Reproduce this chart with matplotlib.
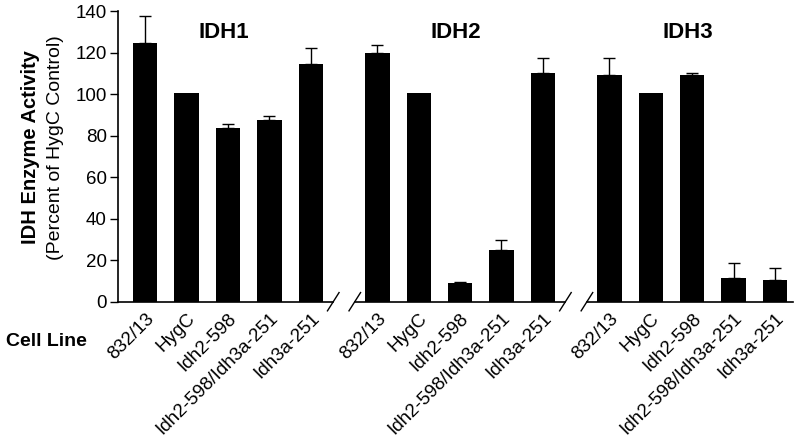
import matplotlib
matplotlib.use("Agg")
import matplotlib.pyplot as plt
import numpy as np
from matplotlib.transforms import blended_transform_factory

plt.rcParams['font.family'] = ['Liberation Sans', 'DejaVu Sans']

groups = ["IDH1", "IDH2", "IDH3"]
cell_lines = ["832/13", "HygC", "Idh2-598", "Idh2-598/Idh3a-251", "Idh3a-251"]
idh1_vals = [124.5, 100.4, 83.7, 87.5, 114.3]
idh1_err = [13.3, 0.0, 1.7, 2.1, 8.1]
idh2_vals = [119.9, 100.4, 9.0, 24.9, 110.0]
idh2_err = [3.9, 0.0, 0.4, 5.0, 7.4]
idh3_vals = [109.2, 100.4, 109.0, 11.3, 10.3]
idh3_err = [8.3, 0.0, 1.3, 7.3, 5.8]
yticks = [0, 20, 40, 60, 80, 100, 120, 140]

group_vals = [idh1_vals, idh2_vals, idh3_vals]
group_errs = [idh1_err, idh2_err, idh3_err]
group_offset = 5.61

fig = plt.figure(figsize=(8, 4.44), dpi=100)
ax = fig.add_axes([0.1475, 0.3205, 0.8435, 0.6545])

xpos_all = []
labels_all = []
for g, (vals, errs) in enumerate(zip(group_vals, group_errs)):
    x = np.arange(len(cell_lines)) + g * group_offset
    vals = np.asarray(vals)
    errs = np.asarray(errs)
    ax.bar(x, vals, width=0.59, color='black', zorder=2)
    m = errs > 0
    ax.errorbar(x[m], vals[m], yerr=[np.zeros(m.sum()), errs[m]], fmt='none',
                ecolor='black', elinewidth=1.0, capsize=4, capthick=1.0, zorder=1)
    ax.text(x[0] + 1.9, 129.6, groups[g], ha='center', va='center',
            fontsize=16, fontweight='bold')
    xpos_all.extend(x)
    labels_all.extend(cell_lines)

ax.set_xlim(-0.657, 15.65)
ax.set_ylim(0, 140)
ax.set_yticks(yticks)
ax.tick_params(axis='y', direction='out', length=6, width=1, labelsize=13.5, pad=2)
ax.set_xticks(xpos_all)
ax.set_xticklabels(labels_all, rotation=45, ha='right', rotation_mode='anchor',
                   fontsize=13.5)
ax.tick_params(axis='x', length=0, pad=6)
for s in ['top', 'right', 'bottom']:
    ax.spines[s].set_visible(False)
ax.spines['left'].set_linewidth(1.2)

# broken bottom axis
trans = blended_transform_factory(ax.transData, ax.transAxes)
breaks = [4 + (group_offset - 4) / 2, 4 + group_offset + (group_offset - 4) / 2]
half = 0.26
seg_edges = [ax.get_xlim()[0]]
for b in breaks:
    seg_edges += [b - half, b + half]
seg_edges.append(ax.get_xlim()[1])
for i in range(0, len(seg_edges), 2):
    ax.plot([seg_edges[i], seg_edges[i + 1]], [0, 0], color='black', lw=1.2,
            transform=trans, clip_on=False, zorder=3)
for b in breaks:
    for c in (b - half, b + half):
        ax.plot([c - 0.14, c + 0.14], [-4.4, 4.4], color='black', lw=1.0,
                clip_on=False, zorder=3)

fig.text(0.0385, 0.668, "IDH Enzyme Activity", rotation=90, ha='center', va='center',
         fontsize=14.5, fontweight='bold')
fig.text(0.069, 0.668, "(Percent of HygC Control)", rotation=90, ha='center',
         va='center', fontsize=14)
fig.text(0.0075, 0.2305, "Cell Line", ha='left', va='center', fontsize=14,
         fontweight='bold')

fig.savefig("out.png", dpi=100)
